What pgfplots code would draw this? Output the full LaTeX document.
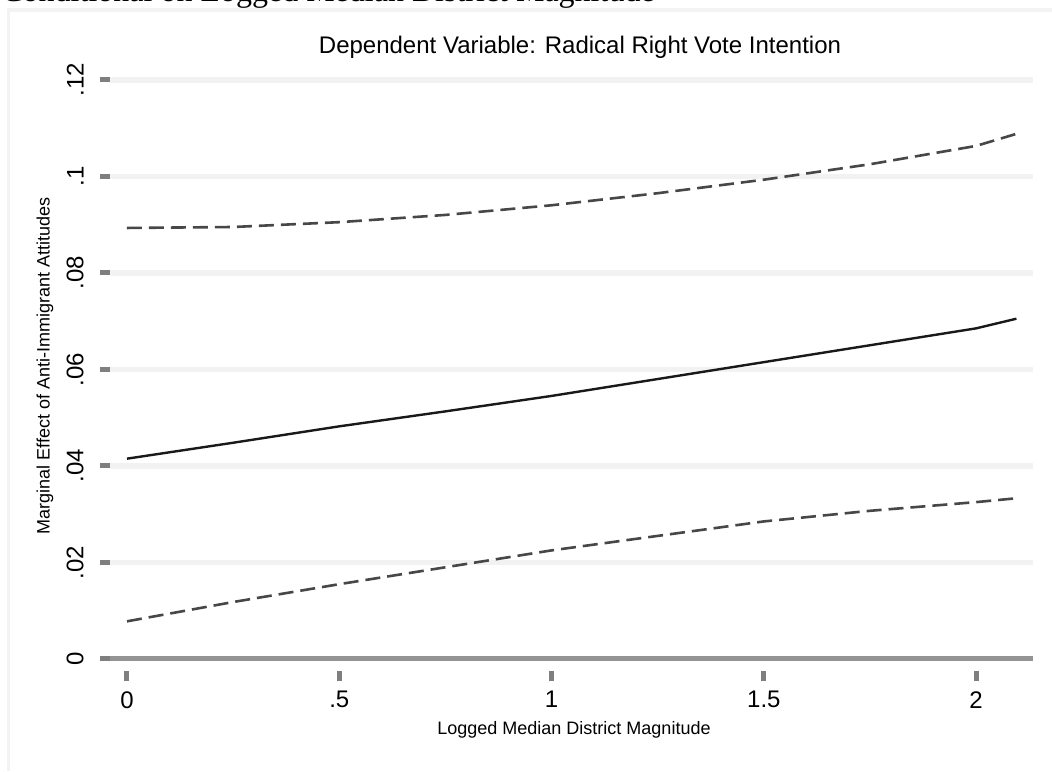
\documentclass[border=0pt]{standalone}
\usepackage{fontspec}
\setmainfont{Liberation Sans}
\newfontfamily\capfont{Liberation Serif}
\usepackage{pgfplots}
\pgfplotsset{compat=1.18}
\definecolor{gridc}{HTML}{F2F2F2}
\definecolor{tickc}{HTML}{7F7F7F}
\definecolor{zeroc}{HTML}{949494}
\definecolor{framec}{HTML}{F3F3F3}

\begin{document}
\begin{tikzpicture}
% frame of the graph region and the cut caption above it
\draw[framec, line width=2pt] (3.5pt,380.5pt) -- (526pt,380.5pt);
\draw[framec, line width=1.5pt] (4.25pt,380.5pt) -- (4.25pt,0pt);
\node[anchor=base west, inner sep=0pt, font=\capfont\fontsize{16}{16}\selectfont]
  at (0.5pt,384.8pt) {Conditional on Logged Median District Magnitude};

\begin{axis}[
  at={(55pt,50pt)}, anchor=south west,
  scale only axis, width=461.5pt, height=305.5pt,
  xmin=-0.04, xmax=2.134, ymin=-0.00249, ymax=0.1241,
  axis line style={draw=none},
  xtick={0,0.5,1,1.5,2}, xticklabels={0,.5,1,1.5,2},
  ytick={0.02,0.04,0.06,0.08,0.1,0.12},
  yticklabels={.02,.04,.06,.08,.1,.12},
  extra y ticks={0}, extra y tick labels={0},
  extra y tick style={grid style={draw=zeroc, line width=2.5pt}},
  xtick pos=bottom, ytick pos=left, tick align=outside,
  major tick length=5pt,
  major tick style={draw=tickc, line width=2.5pt},
  ymajorgrids, grid style={draw=gridc, line width=2.8pt},
  ticklabel style={font=\fontsize{12}{12}\selectfont},
  yticklabel style={xshift=-8pt, rotate=90, anchor=south, inner sep=0pt},
  xticklabel style={yshift=-5pt, anchor=north, inner sep=0pt},
  clip=false,
]
% upper bound
\addplot[black!72, line width=1.3pt, dash pattern=on 7.5pt off 3.5pt] coordinates {
  (0,0.0893) (0.25,0.0895) (0.5,0.0905) (0.75,0.0920) (1,0.0940)
  (1.25,0.0965) (1.5,0.0993) (1.75,0.1025) (2,0.1063) (2.095,0.1088)};
% marginal effect
\addplot[black!90, line width=1.2pt] coordinates {
  (0,0.0415) (0.25,0.0448) (0.5,0.0482) (0.75,0.0513) (1,0.0545)
  (1.25,0.0580) (1.5,0.0615) (1.75,0.0650) (2,0.0685) (2.095,0.0705)};
% lower bound
\addplot[black!72, line width=1.3pt, dash pattern=on 7.5pt off 3.5pt] coordinates {
  (0,0.0078) (0.25,0.0118) (0.5,0.0155) (0.75,0.0190) (1,0.0225)
  (1.25,0.0255) (1.5,0.0285) (1.75,0.0307) (2,0.0325) (2.095,0.0333)};
\end{axis}

\node[anchor=base, font=\fontsize{12}{12}\selectfont] at (290pt,358.5pt)
  {Dependent Variable: Radical Right Vote Intention};
\node[font=\fontsize{9}{9}\selectfont] at (287pt,20.5pt)
  {Logged Median District Magnitude};
\node[rotate=90, font=\fontsize{9}{9}\selectfont] at (22.5pt,202.5pt)
  {Marginal Effect of Anti-Immigrant Attitudes};

\pgfresetboundingbox
\useasboundingbox (0,0) rectangle (526pt,385.5pt);
\end{tikzpicture}
\end{document}
